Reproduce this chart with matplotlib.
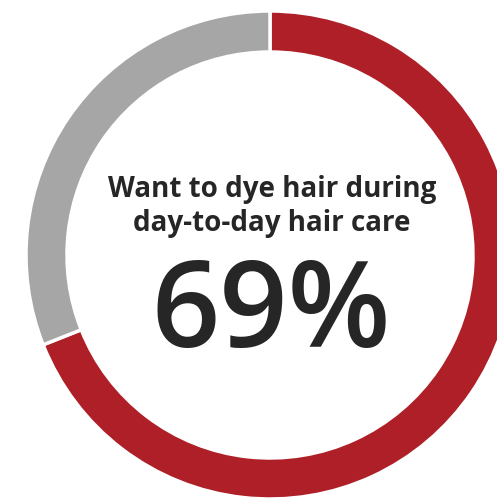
import matplotlib
matplotlib.use('Agg')
import matplotlib.pyplot as plt

# Share of respondents
labels = ['Want to dye hair', 'Other']
values = [69, 31]
colors = ['#AF1F28', '#A6A6A6']
title_lines = ['Want to dye hair during', 'day-to-day hair care']
big_label = '69%'

plt.rcParams['font.family'] = ['Open Sans', 'DejaVu Sans']

fig = plt.figure(figsize=(4.97, 5.0), dpi=100)
ax = fig.add_axes([0, 0, 1, 1])

cx, cy = 270, 245
ax.pie(values, colors=colors, startangle=90, counterclock=False,
       center=(cx, cy), radius=244, frame=True,
       wedgeprops=dict(width=41, edgecolor='white', linewidth=2.5))
ax.set_xlim(0, 497)
ax.set_ylim(0, 500)
ax.set_aspect('equal')
ax.axis('off')

ax.text(272, 311, title_lines[0], ha='center', va='center',
        fontsize=20, fontweight='bold', color='#262626')
ax.text(272, 277, title_lines[1], ha='center', va='center',
        fontsize=20, fontweight='bold', color='#262626')
ax.text(271, 184, big_label, ha='center', va='center',
        fontsize=86, fontweight='semibold', color='#262626')

fig.savefig('out.png', dpi=100)
